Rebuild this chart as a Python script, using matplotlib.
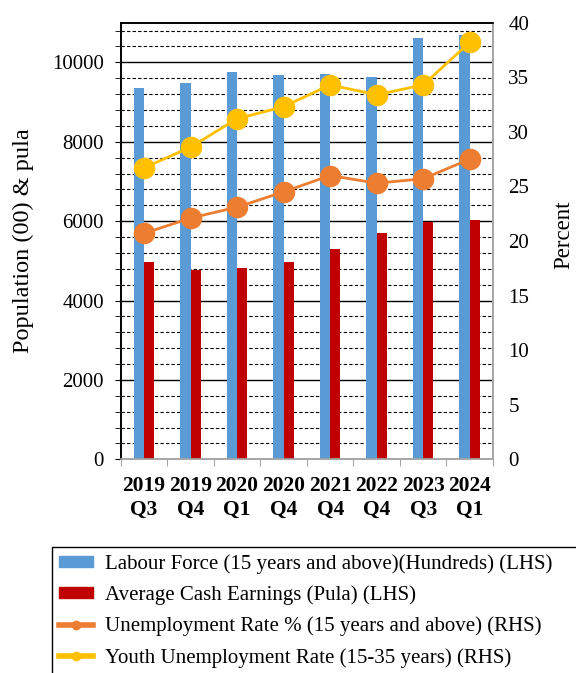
import matplotlib
matplotlib.use("Agg")
import matplotlib.pyplot as plt
import numpy as np
from matplotlib.ticker import MultipleLocator
from matplotlib.patches import Patch, Rectangle
from matplotlib.lines import Line2D

plt.rcParams['font.family'] = ['Liberation Serif', 'DejaVu Serif']

quarters = ["2019\nQ3", "2019\nQ4", "2020\nQ1", "2020\nQ4", "2021\nQ4", "2022\nQ4", "2023\nQ3", "2024\nQ1"]
labour_force = [9350, 9490, 9760, 9690, 9700, 9620, 10620, 10700]
cash_earnings = [4970, 4770, 4830, 4970, 5300, 5700, 5970, 6040]
unemployment = [20.7, 22.1, 23.1, 24.5, 26.0, 25.3, 25.7, 27.5]
youth_unemployment = [26.7, 28.6, 31.2, 32.3, 34.3, 33.4, 34.3, 38.2]

c_blue = "#5B9BD5"
c_red = "#C00000"
c_orange = "#ED7D31"
c_yellow = "#FFC000"
c_gray = "#A6A6A6"

fig = plt.figure(figsize=(5.76, 6.73), dpi=100)
ax = fig.add_axes([0.2096, 0.3175, 0.8559 - 0.2096, 0.9663 - 0.3175])
ax2 = ax.twinx()

x = np.arange(len(quarters))
w = 0.22
ax.bar(x - w / 2, labour_force, width=w, color=c_blue, zorder=3)
ax.bar(x + w / 2, cash_earnings, width=w, color=c_red, zorder=3)

ax.set_xlim(-0.5, len(quarters) - 0.5)
ax.set_ylim(0, 11000)
ax.yaxis.set_major_locator(MultipleLocator(2000))
ax.yaxis.set_minor_locator(MultipleLocator(400))
ax.grid(True, which='major', axis='y', color='black', linewidth=1.0, zorder=0)
ax.grid(True, which='minor', axis='y', color='black', linewidth=0.8,
        linestyle=(0, (3, 2)), zorder=0)
ax.set_axisbelow(True)

ax.set_xticks(np.arange(len(quarters) + 1) - 0.5, minor=False)
ax.set_xticklabels([])
ax.set_xticks(x, minor=True)
ax.set_xticklabels(quarters, minor=True, fontsize=15.5, fontweight='bold',
                   linespacing=1.25)
ax.tick_params(axis='x', which='major', length=5, color=c_gray, direction='out')
ax.tick_params(axis='x', which='minor', length=0, pad=12)
ax.tick_params(axis='y', which='major', labelsize=15, length=4, color='black', pad=8)
ax.tick_params(axis='y', which='minor', length=4, color='black')
ax.set_ylabel("Population (00) & pula", fontsize=17.5, labelpad=13)

ax2.plot(x, unemployment, color=c_orange, linewidth=2, marker='o',
         markersize=14.5, zorder=4)
ax2.plot(x, youth_unemployment, color=c_yellow, linewidth=2, marker='o',
         markersize=14.5, zorder=5)
ax2.set_ylim(0, 40)
ax2.yaxis.set_major_locator(MultipleLocator(5))
ax2.tick_params(axis='y', labelsize=15, length=0, pad=11)
ax2.set_ylabel("Percent", fontsize=16.5)
ax2.yaxis.set_label_coords(1.163, 0.514)

for a in (ax, ax2):
    a.spines['left'].set_color('black')
    a.spines['top'].set_color('black')
    a.spines['right'].set_color(c_gray)
    a.spines['bottom'].set_color(c_gray)
    for s in a.spines.values():
        s.set_linewidth(1.2)

handles = [
    Patch(facecolor=c_blue, edgecolor=c_blue),
    Patch(facecolor=c_red, edgecolor=c_red),
    Line2D([0], [0], color=c_orange, linewidth=4, marker='o', markersize=6),
    Line2D([0], [0], color=c_yellow, linewidth=4, marker='o', markersize=6),
]
labels = [
    "Labour Force (15 years and above)(Hundreds) (LHS)",
    "Average Cash Earnings (Pula) (LHS)",
    "Unemployment Rate % (15 years and above) (RHS)",
    "Youth Unemployment Rate (15-35 years) (RHS)",
]
# Legend box runs off the right and bottom edges of the figure
box_left, box_top = 52 / 576, 1 - 547 / 673
fig.patches.append(Rectangle((box_left, -0.05), 1.1 - box_left, box_top + 0.05,
                             transform=fig.transFigure, facecolor='white',
                             edgecolor='black', linewidth=1.0, zorder=0))
leg = fig.legend(handles, labels, loc='upper left',
                 bbox_to_anchor=(box_left, box_top),
                 fontsize=15, frameon=False, handlelength=1.6,
                 handleheight=0.45, handletextpad=0.6, labelspacing=0.55,
                 borderpad=0.35, borderaxespad=0)

fig.savefig("out.png", dpi=100)
